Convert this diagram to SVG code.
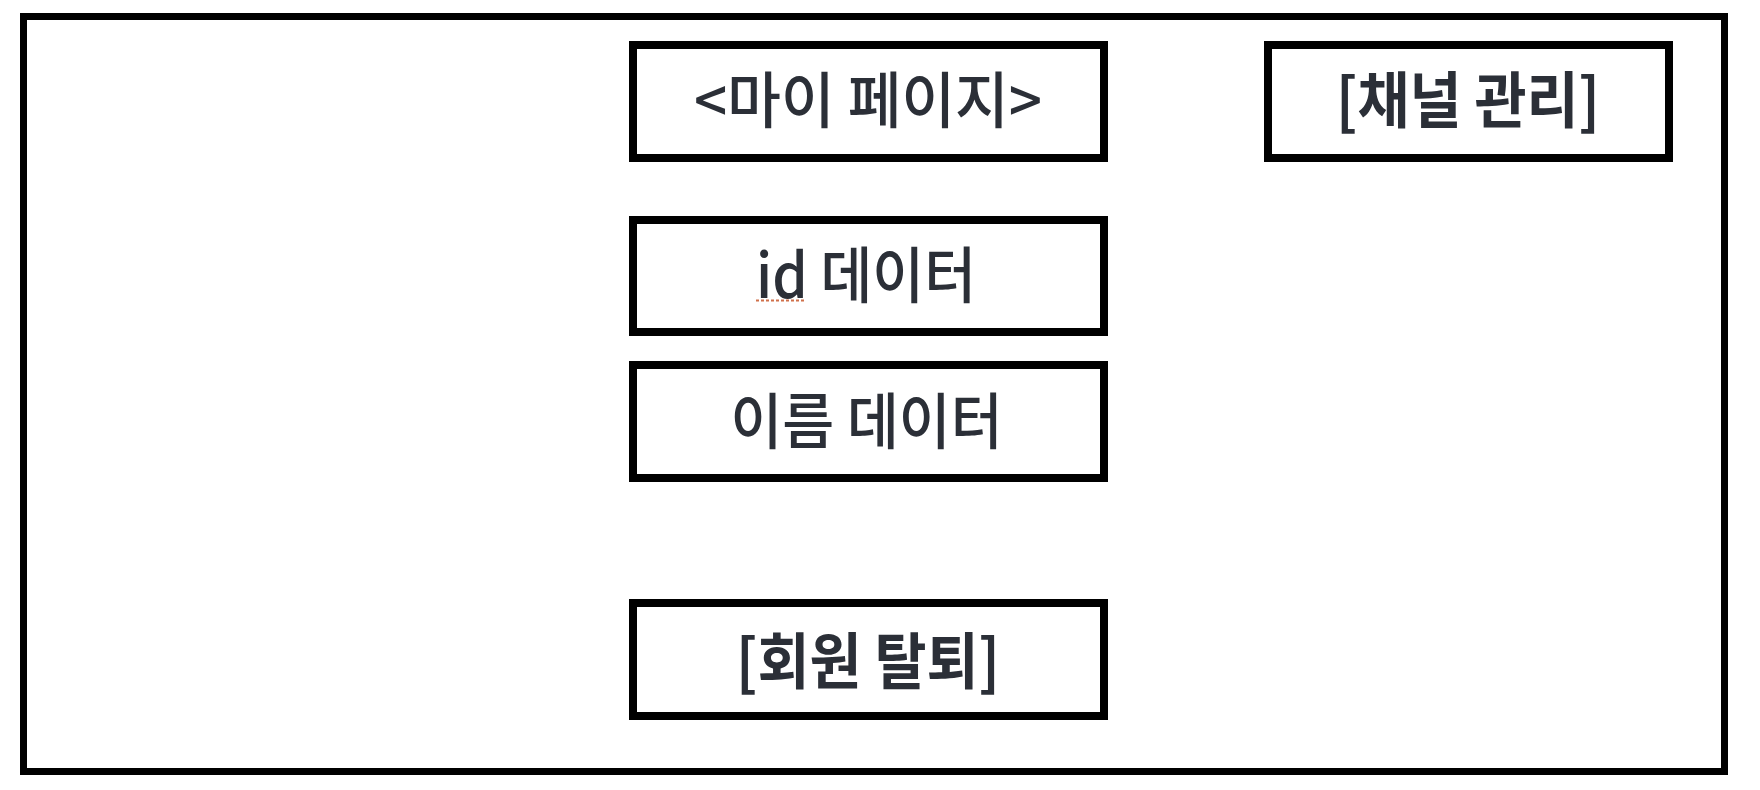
<svg xmlns="http://www.w3.org/2000/svg" width="1760" height="790" viewBox="0 0 1760 790">
<style>
.frame{fill:none;stroke:#000;stroke-width:7}
.box{fill:#fff;stroke:#000;stroke-width:8}
.lbl{font-family:"Noto Sans CJK KR","Liberation Sans",sans-serif;font-size:61px;font-weight:500;fill:#2b2f37;text-anchor:middle}
.b{font-weight:bold}
</style>
<rect width="1760" height="790" fill="#fff"/>
<rect class="frame" x="23.5" y="16.5" width="1701" height="755"/>
<g id="connectors"></g>
<g id="node-mypage">
<rect class="box" x="633" y="45" width="471" height="113"/>
<text class="lbl" x="868" y="123" textLength="348" lengthAdjust="spacingAndGlyphs">&lt;마이 페이지&gt;</text>
</g>
<g id="node-channel">
<rect class="box" x="1268" y="45" width="401" height="113"/>
<text class="lbl b" x="1468" y="123" textLength="264" lengthAdjust="spacingAndGlyphs">[채널 관리]</text>
</g>
<g id="node-id">
<rect class="box" x="633" y="220" width="471" height="112"/>
<text class="lbl" x="866" y="298" textLength="220" lengthAdjust="spacingAndGlyphs">id 데이터</text>
<line x1="756" y1="300.5" x2="806" y2="300.5" stroke="#d0704a" stroke-width="2" stroke-dasharray="3,2"/>
</g>
<g id="node-name">
<rect class="box" x="633" y="365" width="471" height="113"/>
<text class="lbl" x="866.5" y="444" textLength="272" lengthAdjust="spacingAndGlyphs">이름 데이터</text>
</g>
<g id="node-withdraw">
<rect class="box" x="633" y="603" width="471" height="113"/>
<text class="lbl b" x="868" y="684" textLength="264" lengthAdjust="spacingAndGlyphs">[회원 탈퇴]</text>
</g>
</svg>
